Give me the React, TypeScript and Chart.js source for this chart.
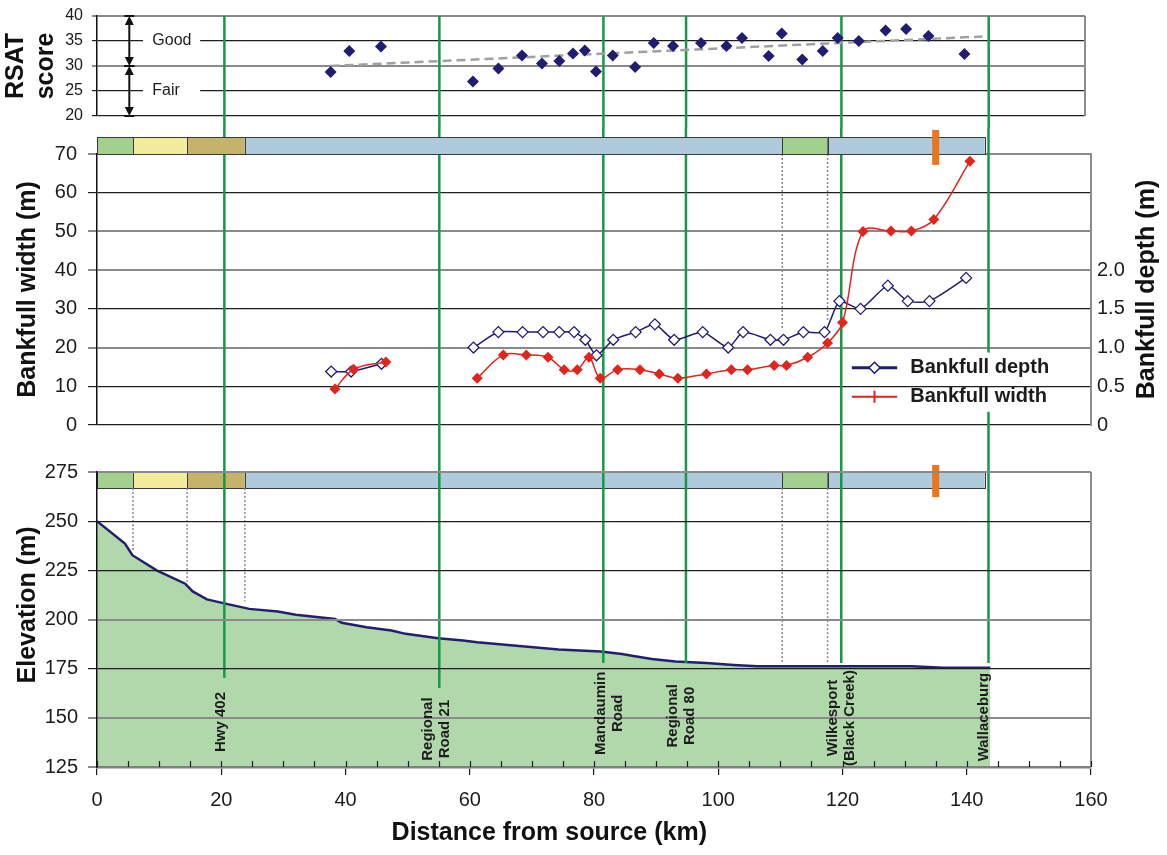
import React, { useEffect, useRef } from 'react';
import { Chart, registerables } from 'chart.js';

Chart.register(...registerables);

const FONT = "'Liberation Sans', Arial, Helvetica, sans-serif";
const NAVY = '#1f1c72';
const RED = '#e1251d';
const GREEN_LINE = '#129a48';
const INK = '#1c1c1c';
const ZONE_COLORS: Record<string, string> = {
  wet: '#a2d18e',
  field: '#f2ec9c',
  mixed: '#c5b36c',
  channel: '#aecadb',
};

// ---------------- data ----------------
// RSAT panel
const rsatKm = [37.6, 40.6, 45.7, 60.5, 64.6, 68.4, 71.6, 74.4, 76.6, 78.5, 80.3, 83.0, 86.6, 89.6, 92.7, 97.2, 101.3, 103.8, 108.1, 110.2, 113.5, 116.8, 119.2, 122.6, 126.9, 130.2, 133.8, 139.6];
const rsatScore = [28.8, 33.0, 33.9, 26.9, 29.5, 32.1, 30.5, 31.0, 32.5, 33.1, 28.9, 32.1, 29.8, 34.6, 34.0, 34.6, 34.0, 35.6, 32.0, 36.5, 31.3, 33.0, 35.6, 35.0, 37.1, 37.4, 36.0, 32.4];
const trendKm = [37.6, 142.5];
const trendScore = [30.0, 35.9];
const ratingLabels = ['Good', 'Fair'];
const ratingTop = [40, 30];
const ratingBottom = [30, 20];
const ratingMid = [35, 25];
const ratingArrowKm = 5.2;
const ratingTextKm = 8.9;
const ratingGapKm = [7.4, 16.6];

// Bankfull panel
const depthKm = [37.7, 40.9, 45.8, 53, 60.6, 64.6, 68.5, 71.8, 74.4, 76.8, 78.6, 80.4, 83.1, 86.7, 89.8, 92.9, 97.5, 101.6, 104.0, 108.4, 110.5, 113.7, 117.1, 119.5, 122.9, 127.3, 130.5, 134.0, 139.9];
const depthM = [0.69, 0.69, 0.79, null, 1.0, 1.2, 1.2, 1.2, 1.2, 1.2, 1.1, 0.9, 1.1, 1.2, 1.3, 1.1, 1.2, 1.0, 1.2, 1.1, 1.1, 1.2, 1.2, 1.6, 1.5, 1.8, 1.6, 1.6, 1.9];
const widthKm = [38.3, 41.3, 46.5, 53, 61.2, 65.4, 69.1, 72.6, 75.2, 77.3, 79.2, 81.0, 83.8, 87.4, 90.5, 93.5, 98.1, 102.1, 104.7, 109.0, 111.0, 114.4, 117.6, 120.0, 123.3, 127.8, 131.1, 134.7, 140.5];
const widthM = [9.3, 14.4, 16.3, null, 12.1, 18.1, 18.1, 17.5, 14.3, 14.3, 17.5, 12.1, 14.3, 14.3, 13.2, 12.1, 13.2, 14.3, 14.3, 15.4, 15.4, 17.5, 21.2, 26.5, 50.0, 50.1, 50.1, 53.1, 68.1];
const depthTickMax = 2.0;
const legendLineKm = [121.5, 128.8];
const legendTextKm = 130.9;
const legendRowWidth = [14.8, 7.3];
const legendGapKm = [120.5, 160];
const legendGapWidth = [3.4, 18.7];

// Elevation panel
const elevKm = [0, 4.5, 5.7, 9.6, 14.2, 15.4, 17.7, 20.5, 24.5, 29.1, 32.0, 38.3, 39.4, 43.4, 47.4, 49.7, 54.9, 58.9, 61.2, 67.5, 74.3, 81.1, 84.5, 86.1, 89.3, 93.1, 98.1, 102.5, 106.3, 131.1, 136.2, 143.8];
const elevM = [250, 238.6, 232.7, 225.0, 218.2, 214.3, 210.2, 208.2, 205.4, 204.1, 202.4, 200.3, 198.3, 196.1, 194.4, 192.7, 190.5, 189.3, 188.4, 186.7, 184.7, 183.7, 182.5, 181.6, 179.9, 178.7, 177.9, 176.9, 176.2, 176.2, 175.5, 175.5];
const elevTitle = 'Elevation (m)';
const elevTitleCenter = 207.4;
const xTitle = 'Distance from source (km)';
const xTitleCenterKm = 72.8;

// Zones (bar above panels)
const zoneEdges = [0, 5.8, 14.5, 23.8, 110.3, 117.6, 142.9];
const zoneKinds = ['wet', 'field', 'mixed', 'channel', 'wet', 'channel'];
const zoneBarWidth = [70, 74.4];
const zoneBarElev = [266.8, 275];
const markerKm = 135.0;
const markerWidth = [67.2, 76.2];
const markerElev = [262.2, 278.6];
const midDotKm = [110.3, 117.6];
const midDotEnd = [24.6, 26.7];
const botDotKm = [5.8, 14.5, 23.8, 110.3, 117.6];
const botDotEnd = [234.5, 219.2, 209.1, 177.7, 177.7];

// Road crossings
const roadKm = [20.5, 55.1, 81.5, 94.8, 119.8, 143.5];
const roadLabels = [['Hwy 402'], ['Regional', 'Road 21'], ['Mandaumin', 'Road'], ['Regional', 'Road 80'], ['Wilkesport', '(Black Creek)'], ['Wallaceburg']];
const roadLineEnd = [170.3, 165.2, 177.9, 177.9, 177.9, 177.9];
const roadLabelKm = [20.0, 54.65, 82.4, 94.1, 119.8, 142.8];
const roadLabelElev = [147.9, 144.3, 152.3, 151.0, 149.9, 150.4];

// Axis ticks
const xMajorStep = 20;
const xMinorStep = 5;

// ---------------- helpers ----------------
function pts(xs: number[], ys: (number | null)[]) {
  return xs.map((x, i) => ({ x, y: ys[i] }));
}
function vline(ctx: CanvasRenderingContext2D, x: number, y0: number, y1: number) {
  ctx.beginPath();
  ctx.moveTo(x, y0);
  ctx.lineTo(x, y1);
  ctx.stroke();
}
function drawZones(ctx: CanvasRenderingContext2D, x: any, yTop: number, yBot: number) {
  for (let i = 0; i < zoneKinds.length; i++) {
    const x0 = x.getPixelForValue(zoneEdges[i]);
    const x1 = x.getPixelForValue(zoneEdges[i + 1]);
    ctx.fillStyle = ZONE_COLORS[zoneKinds[i]];
    ctx.fillRect(x0, yTop, x1 - x0, yBot - yTop);
    ctx.strokeStyle = '#3a3a3a';
    ctx.lineWidth = 1;
    ctx.strokeRect(Math.round(x0) + 0.5, Math.round(yTop) + 0.5, Math.round(x1 - x0), Math.round(yBot - yTop));
  }
}
function drawMarker(ctx: CanvasRenderingContext2D, x: any, yA: number, yB: number) {
  const px = x.getPixelForValue(markerKm);
  ctx.fillStyle = '#e8761a';
  ctx.fillRect(px - 3.5, Math.min(yA, yB), 7, Math.abs(yB - yA));
}
function gridStyle(greyVals: number[]) {
  return {
    color: (c: any) => (c.tick && greyVals.includes(c.tick.value) ? '#8a8a8a' : '#1e1e1e'),
    lineWidth: (c: any) => (c.tick && greyVals.includes(c.tick.value) ? 2 : 1.2),
  };
}
function fitWidth(w: number) {
  return (s: any) => {
    s.width = w;
    s.paddingTop = 0;
    s.paddingBottom = 0;
  };
}

// ---------------- plugins ----------------
const topDecor = {
  id: 'topDecor',
  beforeDatasetsDraw(chart: any) {
    const { ctx, chartArea: a, scales } = chart;
    const x = scales.x;
    const y = scales.y;
    ctx.save();
    ctx.strokeStyle = '#8c8c8c';
    ctx.lineWidth = 2;
    vline(ctx, a.right, a.top, a.bottom);
    const gx0 = x.getPixelForValue(ratingGapKm[0]);
    const gx1 = x.getPixelForValue(ratingGapKm[1]);
    const ax = x.getPixelForValue(ratingArrowKm);
    ratingLabels.forEach((lab, i) => {
      const ym = y.getPixelForValue(ratingMid[i]);
      ctx.fillStyle = '#fff';
      ctx.fillRect(gx0, ym - 3, gx1 - gx0, 6);
      ctx.fillStyle = INK;
      ctx.font = `16px ${FONT}`;
      ctx.textAlign = 'left';
      ctx.textBaseline = 'middle';
      ctx.fillText(lab, x.getPixelForValue(ratingTextKm), ym);
      const yt = y.getPixelForValue(ratingTop[i]);
      const yb = y.getPixelForValue(ratingBottom[i]);
      ctx.strokeStyle = '#111';
      ctx.lineWidth = 2;
      vline(ctx, ax, yt + 6, yb - 6);
      ctx.fillStyle = '#111';
      ctx.beginPath();
      ctx.moveTo(ax, yt);
      ctx.lineTo(ax - 4.5, yt + 9);
      ctx.lineTo(ax + 4.5, yt + 9);
      ctx.closePath();
      ctx.fill();
      ctx.beginPath();
      ctx.moveTo(ax, yb);
      ctx.lineTo(ax - 4.5, yb - 9);
      ctx.lineTo(ax + 4.5, yb - 9);
      ctx.closePath();
      ctx.fill();
      ctx.fillRect(ax - 5, yt - 1, 10, 2);
      ctx.fillRect(ax - 5, yb - 1, 10, 2);
    });
    ctx.strokeStyle = GREEN_LINE;
    ctx.lineWidth = 2.5;
    roadKm.forEach((k) => vline(ctx, x.getPixelForValue(k), a.top, chart.height));
    ctx.restore();
  },
};

const midDecor = {
  id: 'midDecor',
  beforeDatasetsDraw(chart: any) {
    const { ctx, scales } = chart;
    const x = scales.x;
    const y = scales.y;
    ctx.save();
    ctx.setLineDash([2, 2]);
    ctx.strokeStyle = '#8a8a8a';
    ctx.lineWidth = 1.5;
    midDotKm.forEach((k, i) => vline(ctx, x.getPixelForValue(k), y.getPixelForValue(zoneBarWidth[0]), y.getPixelForValue(midDotEnd[i])));
    ctx.setLineDash([]);
    ctx.strokeStyle = GREEN_LINE;
    ctx.lineWidth = 2.5;
    roadKm.forEach((k) => {
      const px = x.getPixelForValue(k);
      if (k >= legendGapKm[0] && k <= legendGapKm[1]) {
        vline(ctx, px, 0, y.getPixelForValue(legendGapWidth[1]));
        vline(ctx, px, y.getPixelForValue(legendGapWidth[0]), chart.height);
      } else {
        vline(ctx, px, 0, chart.height);
      }
    });
    drawZones(ctx, x, y.getPixelForValue(zoneBarWidth[1]), y.getPixelForValue(zoneBarWidth[0]));
    drawMarker(ctx, x, y.getPixelForValue(markerWidth[0]), y.getPixelForValue(markerWidth[1]));
    ctx.restore();
  },
  afterDraw(chart: any) {
    const { ctx, chartArea: a, scales } = chart;
    const x = scales.x;
    const y = scales.y;
    const ds = chart.data.datasets;
    ctx.save();
    const lx0 = x.getPixelForValue(legendLineKm[0]);
    const lx1 = x.getPixelForValue(legendLineKm[1]);
    const lm = (lx0 + lx1) / 2;
    const tx = x.getPixelForValue(legendTextKm);
    const r1 = y.getPixelForValue(legendRowWidth[0]);
    const r2 = y.getPixelForValue(legendRowWidth[1]);
    // depth row
    ctx.strokeStyle = NAVY;
    ctx.lineWidth = 3;
    ctx.beginPath();
    ctx.moveTo(lx0, r1);
    ctx.lineTo(lx1, r1);
    ctx.stroke();
    ctx.fillStyle = '#fff';
    ctx.lineWidth = 1.5;
    ctx.beginPath();
    ctx.moveTo(lm, r1 - 5.5);
    ctx.lineTo(lm + 5.5, r1);
    ctx.lineTo(lm, r1 + 5.5);
    ctx.lineTo(lm - 5.5, r1);
    ctx.closePath();
    ctx.fill();
    ctx.stroke();
    // width row
    ctx.strokeStyle = RED;
    ctx.lineWidth = 2;
    ctx.beginPath();
    ctx.moveTo(lx0, r2);
    ctx.lineTo(lx1, r2);
    ctx.stroke();
    vline(ctx, lm, r2 - 6, r2 + 6);
    ctx.fillStyle = INK;
    ctx.font = `bold 20px ${FONT}`;
    ctx.textAlign = 'left';
    ctx.textBaseline = 'middle';
    ctx.fillText(ds[1].label, tx, r1);
    ctx.fillText(ds[0].label, tx, r2);
    // right axis title (reads bottom to top)
    ctx.translate(a.right + 56, (a.top + a.bottom) / 2);
    ctx.rotate(-Math.PI / 2);
    ctx.font = `bold 25px ${FONT}`;
    ctx.textAlign = 'center';
    ctx.fillStyle = '#111';
    ctx.fillText('Bankfull depth (m)', 0, 0);
    ctx.restore();
  },
};

const botDecor = {
  id: 'botDecor',
  beforeDatasetsDraw(chart: any) {
    const { ctx, scales } = chart;
    const x = scales.x;
    const y = scales.y;
    ctx.save();
    drawZones(ctx, x, y.getPixelForValue(zoneBarElev[1]), y.getPixelForValue(zoneBarElev[0]));
    ctx.setLineDash([2, 2]);
    ctx.strokeStyle = '#8a8a8a';
    ctx.lineWidth = 1.5;
    botDotKm.forEach((k, i) => vline(ctx, x.getPixelForValue(k), y.getPixelForValue(zoneBarElev[0]), y.getPixelForValue(botDotEnd[i])));
    ctx.setLineDash([]);
    ctx.restore();
  },
  afterDatasetsDraw(chart: any) {
    const { ctx, scales } = chart;
    const x = scales.x;
    const y = scales.y;
    ctx.save();
    ctx.strokeStyle = GREEN_LINE;
    ctx.lineWidth = 2.5;
    roadKm.forEach((k, i) => vline(ctx, x.getPixelForValue(k), 0, y.getPixelForValue(roadLineEnd[i])));
    drawMarker(ctx, x, y.getPixelForValue(markerElev[0]), y.getPixelForValue(markerElev[1]));
    ctx.restore();
  },
  afterDraw(chart: any) {
    const { ctx, chartArea: a, scales } = chart;
    const x = scales.x;
    const y = scales.y;
    ctx.save();
    ctx.strokeStyle = '#8c8c8c';
    ctx.lineWidth = 2;
    vline(ctx, a.right, a.top, a.bottom);
    ctx.strokeStyle = INK;
    ctx.lineWidth = 1.2;
    for (let k = 0; k <= 160; k += xMinorStep) {
      const px = Math.round(x.getPixelForValue(k)) + 0.5;
      vline(ctx, px, a.bottom, a.bottom - 6);
    }
    ctx.fillStyle = INK;
    ctx.font = `bold 15px ${FONT}`;
    ctx.textAlign = 'center';
    ctx.textBaseline = 'middle';
    roadLabels.forEach((lines, i) => {
      const cx = x.getPixelForValue(roadLabelKm[i]);
      const cy = y.getPixelForValue(roadLabelElev[i]);
      ctx.save();
      ctx.translate(cx, cy);
      ctx.rotate(-Math.PI / 2);
      lines.forEach((t, j) => ctx.fillText(t, 0, (j - (lines.length - 1) / 2) * 17));
      ctx.restore();
    });
    // axis titles
    ctx.fillStyle = '#111';
    ctx.font = `bold 25px ${FONT}`;
    ctx.textAlign = 'center';
    ctx.textBaseline = 'middle';
    ctx.fillText(xTitle, x.getPixelForValue(xTitleCenterKm), chart.height - 22);
    ctx.save();
    ctx.translate(28, y.getPixelForValue(elevTitleCenter));
    ctx.rotate(-Math.PI / 2);
    ctx.fillText(elevTitle, 0, 0);
    ctx.restore();
    ctx.restore();
  },
};

// ---------------- configs ----------------
const baseOpts = {
  animation: false,
  responsive: false,
  maintainAspectRatio: false,
  events: [],
};

function topConfig(): any {
  return {
    type: 'line',
    data: {
      datasets: [
        {
          label: 'RSAT score',
          data: pts(rsatKm, rsatScore),
          showLine: false,
          pointStyle: 'rectRot',
          pointRadius: 6,
          pointBackgroundColor: NAVY,
          pointBorderColor: NAVY,
          pointBorderWidth: 0,
          order: 0,
        },
        {
          label: 'Trend',
          data: pts(trendKm, trendScore),
          borderColor: '#a0a0a0',
          borderWidth: 2.5,
          borderDash: [9, 5],
          pointRadius: 0,
          fill: false,
          order: 1,
        },
      ],
    },
    options: {
      ...baseOpts,
      layout: { padding: { top: 16, bottom: 12, left: 0, right: 82 } },
      plugins: { legend: { display: false }, tooltip: { enabled: false } },
      scales: {
        x: { type: 'linear', min: 0, max: 159, display: false },
        y: {
          min: 20,
          max: 40,
          ticks: { stepSize: 5, color: INK, padding: 9, font: { size: 16, family: FONT } },
          grid: { tickLength: 5, ...gridStyle([30, 40]) },
          border: { color: '#111', width: 1.5 },
          title: {
            display: true,
            text: ['RSAT', 'score'],
            color: '#111',
            padding: { top: 1, bottom: 0 },
            font: { size: 25, weight: 'bold', family: FONT, lineHeight: 1.2 },
          },
          afterFit: fitWidth(97),
        },
      },
    },
    plugins: [topDecor],
  };
}

function midConfig(): any {
  return {
    type: 'line',
    data: {
      datasets: [
        {
          label: 'Bankfull width',
          data: pts(widthKm, widthM),
          yAxisID: 'y',
          borderColor: RED,
          borderWidth: 1.5,
          tension: 0.35,
          spanGaps: false,
          pointStyle: 'rectRot',
          pointRadius: 5.5,
          pointBackgroundColor: RED,
          pointBorderColor: RED,
          pointBorderWidth: 0,
          fill: false,
        },
        {
          label: 'Bankfull depth',
          data: pts(depthKm, depthM),
          yAxisID: 'y2',
          borderColor: NAVY,
          borderWidth: 1.5,
          tension: 0.2,
          spanGaps: false,
          pointStyle: 'rectRot',
          pointRadius: 5.5,
          pointBackgroundColor: '#ffffff',
          pointBorderColor: NAVY,
          pointBorderWidth: 1.3,
          fill: false,
        },
      ],
    },
    options: {
      ...baseOpts,
      layout: { padding: { top: 26, bottom: 15, left: 0, right: 0 } },
      plugins: { legend: { display: false }, tooltip: { enabled: false } },
      scales: {
        x: { type: 'linear', min: 0, max: 160, display: false },
        y: {
          position: 'left',
          min: 0,
          max: 70,
          ticks: { stepSize: 10, color: INK, padding: 11, font: { size: 20, family: FONT } },
          grid: { tickLength: 9, ...gridStyle([70, 50, 40, 20]) },
          border: { color: '#111', width: 1.5 },
          title: {
            display: true,
            text: 'Bankfull width (m)',
            color: '#111',
            padding: { top: 13, bottom: 0 },
            font: { size: 25, weight: 'bold', family: FONT, lineHeight: 1.2 },
          },
          afterFit: fitWidth(97),
        },
        y2: {
          position: 'right',
          min: 0,
          max: 3.5,
          ticks: {
            stepSize: 0.5,
            color: INK,
            padding: 6,
            font: { size: 20, family: FONT },
            callback: (v: any) => (v > depthTickMax + 1e-6 ? '' : v === 0 ? '0' : Number(v).toFixed(1)),
          },
          grid: { display: false, drawTicks: false, drawOnChartArea: false },
          border: { display: true, color: '#8c8c8c', width: 2 },
          afterFit: fitWidth(76),
        },
      },
    },
    plugins: [midDecor],
  };
}

function botConfig(): any {
  return {
    type: 'line',
    data: {
      datasets: [
        {
          label: 'Elevation',
          data: pts(elevKm, elevM),
          borderColor: '#22206e',
          borderWidth: 2.5,
          pointRadius: 0,
          tension: 0,
          fill: 'start',
          backgroundColor: '#b0d8ab',
        },
      ],
    },
    options: {
      ...baseOpts,
      layout: { padding: { top: 32, bottom: 0, left: 0, right: 76 } },
      plugins: { legend: { display: false }, tooltip: { enabled: false } },
      scales: {
        x: {
          type: 'linear',
          position: 'bottom',
          min: 0,
          max: 160,
          ticks: {
            stepSize: xMinorStep,
            autoSkip: false,
            maxRotation: 0,
            color: INK,
            padding: 13,
            font: { size: 20, family: FONT },
            callback: (v: any) => (Number(v) % xMajorStep === 0 ? String(v) : ''),
          },
          grid: {
            drawOnChartArea: false,
            tickLength: 8,
            lineWidth: 1.2,
            color: (c: any) => (c.tick && c.tick.value % xMajorStep === 0 ? INK : 'rgba(0,0,0,0)'),
          },
          border: { color: '#808080', width: 2.5, z: 2 },
          title: { display: false },
          afterFit: (s: any) => {
            s.height = 88;
          },
        },
        y: {
          min: 125,
          max: 275,
          ticks: { stepSize: 25, color: INK, padding: 10, font: { size: 20, family: FONT } },
          grid: { z: 1, tickLength: 9, ...gridStyle([275, 200, 150, 125]) },
          border: { color: '#111', width: 1.5, z: 2 },
          title: { display: false },
          afterFit: fitWidth(97),
        },
      },
    },
    plugins: [botDecor],
  };
}

export default function App() {
  const r1 = useRef<HTMLCanvasElement>(null);
  const r2 = useRef<HTMLCanvasElement>(null);
  const r3 = useRef<HTMLCanvasElement>(null);

  useEffect(() => {
    document.body.style.margin = '0';
    document.body.style.overflow = 'hidden';
    document.body.style.background = '#ffffff';
    const c1 = new Chart(r1.current as HTMLCanvasElement, topConfig());
    const c2 = new Chart(r2.current as HTMLCanvasElement, midConfig());
    const c3 = new Chart(r3.current as HTMLCanvasElement, botConfig());
    return () => {
      c1.destroy();
      c2.destroy();
      c3.destroy();
    };
  }, []);

  const cs = (h: number) => ({ display: 'block', width: 1167, height: h });
  return (
    <div style={{ width: 1167, height: 855, background: '#fff' }}>
      <canvas ref={r1} width={1167} height={128} style={cs(128)} />
      <canvas ref={r2} width={1167} height={312} style={cs(312)} />
      <canvas ref={r3} width={1167} height={415} style={cs(415)} />
    </div>
  );
}
